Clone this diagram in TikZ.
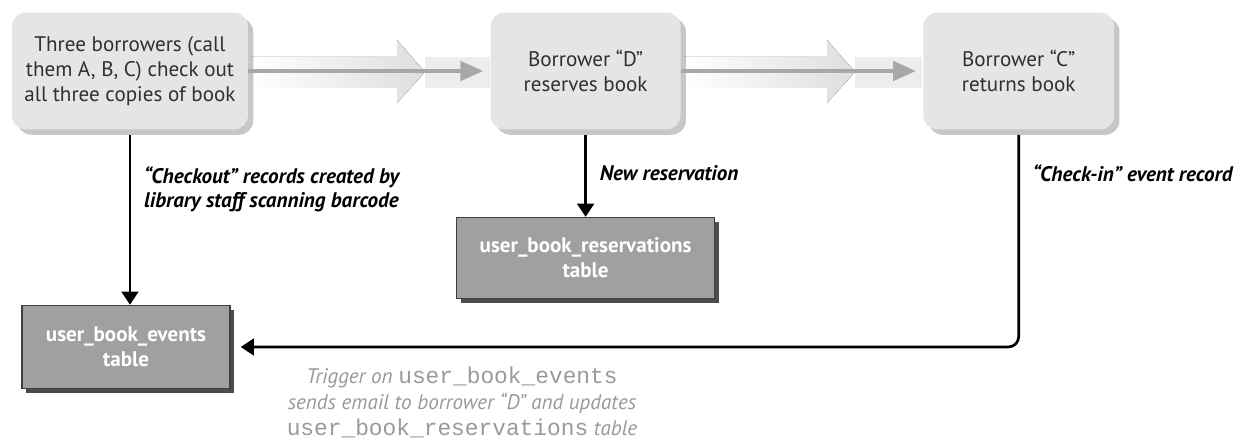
\documentclass[tikz,border=0pt]{standalone}
\usepackage{fontspec}
\setmainfont{PT Sans}
\setmonofont{Liberation Mono}
\usepackage{xcolor}
\definecolor{BoxGrey}{HTML}{E5E5E5}
\definecolor{TableGrey}{HTML}{A0A0A0}
\definecolor{InkGrey}{HTML}{303030}
\definecolor{NoteGrey}{HTML}{999999}
\definecolor{FlowGrey}{HTML}{A8A8A8}
\usetikzlibrary{arrows.meta, positioning, shadows}

\begin{document}
\begin{tikzpicture}[
  x=0.02cm, y=-0.02cm,
  event/.style={
    rectangle, rounded corners=8pt,
    minimum height=2.34cm, align=center,
    fill=BoxGrey, text=InkGrey,
    font=\fontsize{12}{14.2}\selectfont,
    drop shadow={shadow xshift=3pt, shadow yshift=-3pt, fill=black, opacity=0.22}
  },
  dbtable/.style={
    rectangle, align=center,
    draw=black!75, line width=0.8pt, fill=TableGrey, text=white,
    font=\fontsize{12}{14.2}\selectfont\bfseries,
    drop shadow={shadow xshift=2.5pt, shadow yshift=-2.5pt, fill=black!70, opacity=1}
  },
  arr/.style={-{Triangle[length=7.5pt, width=9.5pt]}, line width=1.5pt},
  flow/.style={-{Triangle[length=13pt, width=11pt]}, line width=2.2pt, color=FlowGrey},
  note/.style={font=\fontsize{12}{14.2}\selectfont\bfseries\itshape, align=left},
  trignote/.style={font=\fontsize{12}{14.8}\selectfont, text=NoteGrey, align=center},
]
\useasboundingbox (0,0) rectangle (1247,442);

% faded guide bands behind the flow arrows
\fill[left color=white, right color=black!13]
  (250,57) -- (397,57) -- (397,40) -- (425,72) -- (397,103) -- (397,88) -- (250,88) -- cycle;
\fill[black!7] (425,57) rectangle (490,88);
\fill[left color=white, right color=black!13]
  (684,57) -- (827,57) -- (827,40) -- (855,72) -- (827,103) -- (827,88) -- (684,88) -- cycle;
\fill[black!7] (855,57) rectangle (922,88);

\node[event, minimum width=4.72cm] (checkout) at (130,71)
                      {Three borrowers (call\\them A, B, C) check out\\all three copies of book};
\node[event, minimum width=3.8cm,  right=4.84cm of checkout] (reserve)
                      {Borrower “D”\\reserves book};
\node[event, minimum width=3.82cm, right=4.84cm of reserve]  (checkin)
                      {Borrower “C”\\returns book};

\node[dbtable, minimum width=4.16cm, minimum height=1.66cm,
      below=3.5cm of checkout, xshift=-0.08cm] (events)
                      {user\_book\_events\\table};
\node[dbtable, minimum width=5.16cm, minimum height=1.62cm,
      below=1.74cm of reserve] (reservations)
                      {user\_book\_reservations\\table};

\node[trignote] (trigger) at (462,402)
  {\textit{Trigger on} {\fontsize{13}{14.8}\selectfont\texttt{user\_book\_events}}\\
   \textit{sends email to borrower “D” and updates}\\
   {\fontsize{13}{14.8}\selectfont\texttt{user\_book\_reservations}} \textit{table}};

\draw[flow, shorten >=4pt] (checkout) -- (reserve);
\draw[flow, shorten >=4pt] (reserve)  -- (checkin);

\draw[arr, shorten <=0.1cm] (checkout.south) -- (checkout.south |- events.north)
  node[note, pos=0.34, right=4pt] (chklbl)
       {“Checkout” records created by\\library staff scanning barcode};
\draw[arr, shorten <=0.1cm] (reserve.south) -- (reservations.north)
  node[note, midway, right=4pt] (newlbl) {New reservation};
\draw[arr, rounded corners=6pt, shorten <=0.1cm, shorten >=0.2cm]
  (checkin.south) |- (events.east)
  node[note, pos=0.1, right=4pt] (inlbl) {“Check-in” event record};

\end{tikzpicture}
\end{document}
